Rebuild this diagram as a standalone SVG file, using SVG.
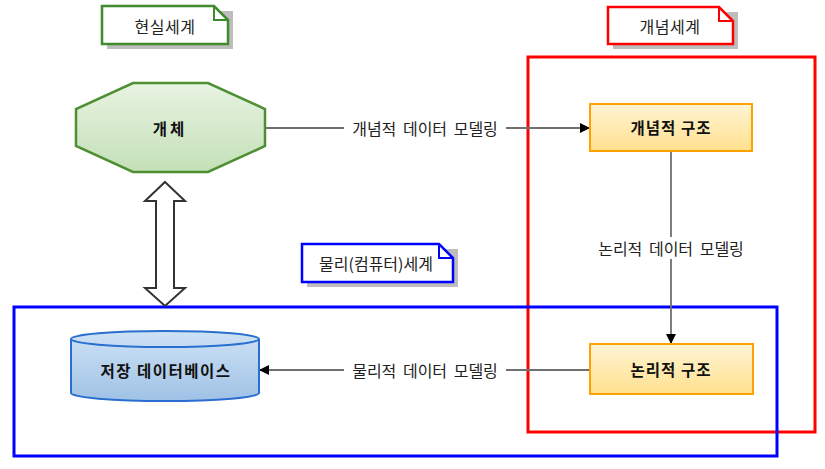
<svg xmlns="http://www.w3.org/2000/svg" width="825" height="469" viewBox="0 0 825 469">
<defs>
<linearGradient id="gGreen" x1="0" y1="0" x2="0" y2="1"><stop offset="0" stop-color="#e8f3e2"/><stop offset="1" stop-color="#c4e0b8"/></linearGradient>
<linearGradient id="gOrange" x1="0" y1="0" x2="0" y2="1"><stop offset="0" stop-color="#fff4d4"/><stop offset="1" stop-color="#ffe08e"/></linearGradient>
<linearGradient id="gBlue" x1="0" y1="0" x2="0" y2="1"><stop offset="0" stop-color="#cfe2f5"/><stop offset="1" stop-color="#9fc2e6"/></linearGradient>
<marker id="arr" viewBox="0 0 10 10" refX="10" refY="5" markerWidth="10" markerHeight="10" markerUnits="userSpaceOnUse" orient="auto"><path d="M0,0 L10,5 L0,10 Z" fill="#000"/></marker>
</defs>
<style>
.lbl{font-family:"Noto Sans CJK KR","Liberation Sans",sans-serif;font-size:16px;fill:#222;text-anchor:middle;dominant-baseline:central;word-spacing:3px}
.bold{font-family:"Noto Sans CJK KR","Liberation Sans",sans-serif;font-size:15.5px;font-weight:bold;fill:#111;text-anchor:middle;dominant-baseline:central;letter-spacing:1px}
.conn{stroke:#707070;stroke-width:1.8;fill:none}
.shadow{fill:#bdbdbd}
.note{fill:#fff;stroke-width:2.5}
</style>
<rect width="825" height="469" fill="#fff"/>

<g id="world-conceptual-frame"><rect x="528" y="57" width="287" height="375" fill="none" stroke="#ff0000" stroke-width="3"/></g>
<g id="world-physical-frame"><rect x="14" y="307" width="763" height="149" fill="none" stroke="#0000ff" stroke-width="3"/></g>

<g id="note-real">
<rect class="shadow" x="107" y="11" width="126" height="38"/>
<path class="note" stroke="#3f8a2c" d="M102,6 H214 L228,20 V44 H102 Z"/>
<path fill="none" stroke="#3f8a2c" stroke-width="2" d="M214,6 V20 H228"/>
<text class="lbl" x="165" y="26" style="letter-spacing:0.5px">현실세계</text>
</g>
<g id="note-concept">
<rect class="shadow" x="613" y="12" width="125" height="37"/>
<path class="note" stroke="#ff0000" d="M608,7 H719 L733,21 V44 H608 Z"/>
<path fill="none" stroke="#ff0000" stroke-width="2" d="M719,7 V21 H733"/>
<text class="lbl" x="670" y="26" style="letter-spacing:0.5px">개념세계</text>
</g>
<g id="note-physical">
<rect class="shadow" x="307" y="249" width="151" height="38"/>
<path class="note" stroke="#0000ff" d="M302,244 H439 L453,258 V282 H302 Z"/>
<path fill="none" stroke="#0000ff" stroke-width="2" d="M439,244 V258 H453"/>
<text class="lbl" x="376" y="263">물리(컴퓨터)세계</text>
</g>

<g id="connectors">
<line class="conn" x1="265" y1="128" x2="590" y2="128" marker-end="url(#arr)"/>
<rect x="344" y="117" width="162" height="22" fill="#fff"/>
<text class="lbl" x="425" y="128">개념적 데이터 모델링</text>
<line class="conn" x1="671" y1="151" x2="671" y2="344" marker-end="url(#arr)"/>
<rect x="590" y="237" width="162" height="22" fill="#fff"/>
<text class="lbl" x="671" y="248">논리적 데이터 모델링</text>
<line class="conn" x1="590" y1="370" x2="259" y2="370" marker-end="url(#arr)"/>
<rect x="344" y="359" width="162" height="22" fill="#fff"/>
<text class="lbl" x="425" y="370">물리적 데이터 모델링</text>
<path d="M165,182 L185,201 L174,201 L174,288 L185,288 L165,306 L145,288 L156,288 L156,201 L145,201 Z" fill="#fff" stroke="#333" stroke-width="2" stroke-linejoin="miter"/>
</g>

<g id="entity">
<polygon points="133,83 208,83 265,109 265,146 208,172 133,172 76,146 76,109" fill="url(#gGreen)" stroke="#4f8f33" stroke-width="2.5"/>
<text class="bold" x="170" y="128" style="letter-spacing:3px">개체</text>
</g>
<g id="conceptual-structure">
<rect x="590" y="104" width="162" height="47" fill="url(#gOrange)" stroke="#ffa200" stroke-width="2"/>
<text class="bold" x="671" y="127">개념적 구조</text>
</g>
<g id="logical-structure">
<rect x="590" y="344" width="163" height="50" fill="url(#gOrange)" stroke="#ffa200" stroke-width="2"/>
<text class="bold" x="671" y="369">논리적 구조</text>
</g>
<g id="database">
<path d="M71,339 A94,8 0 0 1 259,339 V393 A94,8 0 0 1 71,393 Z" fill="url(#gBlue)" stroke="#2a6fd0" stroke-width="2"/>
<path d="M71,339 A94,8 0 0 0 259,339" fill="none" stroke="#2a6fd0" stroke-width="2"/>
<text class="bold" x="166" y="370" style="letter-spacing:1.5px">저장 데이터베이스</text>
</g>
</svg>
